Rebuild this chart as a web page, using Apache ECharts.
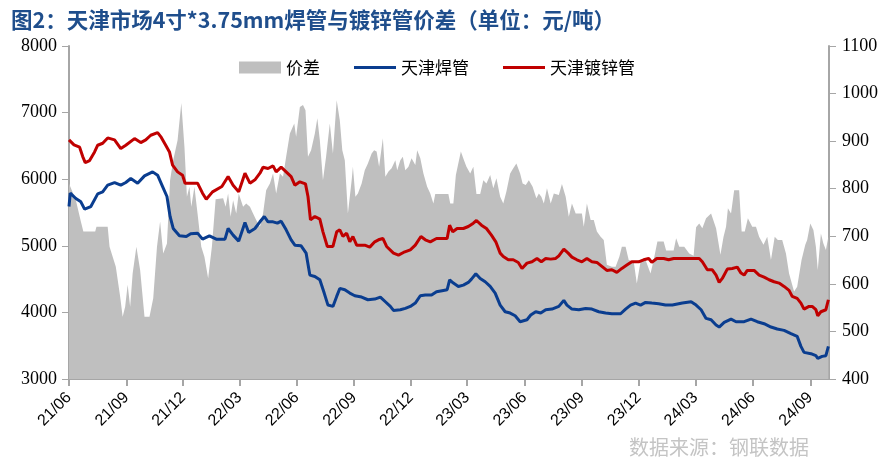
<!DOCTYPE html>
<html>
<head>
<meta charset="utf-8">
<script src="https://cdn.jsdelivr.net/npm/echarts@6/dist/echarts.min.js"></script>
<style>html,body{margin:0;padding:0;background:#fff}#c{width:889px;height:471px}</style>
</head>
<body>
<div id="c"></div>
<script>
// Day offsets counted from START_DATE
const START_DATE = '2021-06-01';
const END_DATE = '2024-10-01';
const tickDates = ['2021-06-01','2021-09-01','2021-12-01','2022-03-01','2022-06-01','2022-09-01','2022-12-01','2023-03-01','2023-06-01','2023-09-01','2023-12-01','2024-03-01','2024-06-01','2024-09-01'];
const seriesNames = ['价差','天津焊管','天津镀锌管'];

// 价差 (right axis) [day, 元/吨]
const spread = [[0,811],[11,776],[19,731],[23,710],[42,710],[44,720],[62,720],[65,678],[75,636],[82,573],[86,531],[90,552],[94,598],[98,552],[102,622],[108,678],[114,629],[121,531],[129,531],[135,570],[141,678],[146,731],[151,664],[157,685],[162,818],[167,860],[174,902],[180,980],[185,888],[189,783],[193,804],[196,762],[201,804],[206,748],[212,678],[217,657],[223,612],[229,678],[235,778],[247,780],[251,762],[255,790],[259,741],[263,776],[268,748],[272,790],[279,762],[284,769],[290,762],[295,748],[300,734],[306,720],[311,748],[316,797],[322,811],[327,832],[332,790],[338,832],[343,825],[348,867],[354,916],[361,937],[364,909],[370,972],[375,976],[379,965],[383,867],[388,881],[394,916],[398,948],[402,902],[407,818],[412,867],[418,937],[423,874],[429,986],[434,944],[438,881],[442,860],[447,748],[453,818],[455,846],[459,783],[463,790],[469,811],[474,839],[479,853],[485,874],[489,881],[493,878],[497,846],[503,906],[507,825],[512,836],[517,843],[523,860],[526,839],[531,860],[535,867],[539,839],[544,846],[549,864],[555,850],[558,881],[563,864],[568,832],[574,804],[579,790],[584,769],[587,789],[608,789],[611,769],[616,769],[620,829],[628,878],[633,860],[637,846],[643,832],[648,846],[653,789],[659,789],[664,818],[669,811],[675,829],[680,801],[685,822],[691,783],[696,769],[701,794],[707,832],[712,843],[717,853],[723,832],[727,811],[732,808],[737,818],[743,804],[749,780],[753,790],[757,783],[761,769],[766,801],[772,769],[777,790],[785,787],[790,810],[796,783],[801,741],[806,769],[812,748],[822,748],[825,720],[830,769],[836,734],[841,734],[846,710],[852,699],[857,692],[862,640],[870,636],[876,636],[882,657],[886,678],[892,678],[897,650],[905,647],[910,601],[916,647],[924,650],[932,622],[937,650],[943,689],[953,689],[957,670],[969,670],[973,696],[978,678],[986,678],[994,664],[1001,659],[1005,719],[1010,727],[1015,717],[1021,738],[1029,748],[1037,717],[1044,661],[1049,699],[1053,720],[1056,759],[1061,748],[1066,797],[1074,797],[1078,710],[1083,710],[1088,738],[1095,720],[1101,720],[1106,699],[1113,682],[1119,699],[1125,650],[1131,699],[1136,692],[1143,692],[1149,664],[1154,622],[1162,584],[1167,594],[1174,650],[1180,682],[1183,692],[1188,727],[1193,713],[1197,678],[1200,629],[1205,706],[1209,685],[1213,671],[1217,699]];

// 天津焊管 (left axis) [day, 元/吨]
const welded = [[0,5590],[2,5790],[11,5710],[19,5660],[25,5550],[35,5590],[46,5780],[54,5810],[62,5910],[73,5950],[83,5910],[91,5950],[99,6010],[110,5940],[121,6050],[134,6110],[142,6060],[150,5890],[157,5740],[162,5440],[167,5260],[177,5150],[188,5140],[195,5180],[206,5190],[214,5100],[225,5150],[236,5100],[250,5100],[255,5260],[263,5160],[272,5070],[282,5350],[288,5200],[298,5260],[306,5360],[313,5440],[319,5360],[327,5360],[334,5340],[340,5370],[348,5240],[356,5090],[362,5010],[372,5000],[380,4890],[386,4560],[394,4540],[402,4490],[409,4290],[415,4110],[423,4090],[429,4240],[434,4360],[442,4340],[450,4290],[458,4250],[469,4230],[479,4190],[490,4200],[499,4230],[507,4160],[515,4090],[520,4030],[531,4040],[539,4060],[547,4090],[555,4140],[563,4250],[571,4260],[581,4260],[589,4310],[600,4330],[606,4340],[610,4490],[616,4440],[624,4390],[632,4410],[640,4450],[645,4500],[652,4580],[659,4510],[667,4460],[675,4390],[683,4290],[691,4110],[699,4010],[707,3990],[715,3950],[723,3860],[734,3890],[740,3960],[748,4010],[756,3990],[764,4040],[774,4050],[785,4090],[793,4180],[798,4110],[806,4050],[817,4040],[828,4060],[838,4050],[849,4010],[860,3990],[870,3980],[884,3980],[892,4050],[900,4110],[908,4140],[916,4110],[924,4150],[934,4140],[945,4130],[956,4110],[967,4110],[983,4140],[997,4160],[1005,4110],[1013,4040],[1021,3910],[1029,3890],[1037,3810],[1042,3780],[1050,3850],[1061,3900],[1069,3860],[1082,3860],[1093,3900],[1103,3860],[1114,3830],[1125,3780],[1135,3750],[1146,3730],[1157,3680],[1167,3640],[1173,3490],[1178,3400],[1189,3380],[1197,3350],[1200,3310],[1207,3340],[1213,3350],[1217,3490]];

// 天津镀锌管 (left axis) [day, 元/吨]
const galvanized = [[0,6590],[8,6515],[17,6480],[22,6340],[26,6250],[33,6280],[41,6410],[46,6510],[54,6540],[62,6620],[73,6590],[83,6460],[91,6510],[105,6610],[115,6550],[123,6590],[131,6660],[142,6700],[147,6640],[155,6510],[161,6410],[166,6210],[174,6110],[182,6060],[186,5940],[206,5940],[214,5790],[220,5700],[230,5810],[245,5890],[247,5890],[255,6040],[263,5910],[272,5810],[282,6090],[290,5940],[298,5990],[306,6090],[311,6180],[319,6160],[327,6200],[332,6110],[340,6180],[348,6110],[356,6040],[362,5910],[370,5960],[379,5930],[383,5740],[387,5390],[394,5440],[402,5400],[407,5210],[414,4990],[423,4990],[429,5210],[434,5240],[439,5140],[445,5190],[450,5060],[455,5140],[461,5010],[474,5010],[482,4980],[490,5060],[496,5090],[503,5110],[509,4990],[520,4890],[528,4860],[536,4900],[547,4940],[555,5010],[564,5140],[571,5090],[579,5060],[589,5110],[606,5110],[610,5310],[615,5210],[622,5260],[632,5260],[640,5290],[648,5340],[653,5380],[661,5310],[669,5260],[677,5160],[684,5060],[691,4890],[696,4840],[704,4790],[712,4790],[720,4750],[726,4660],[734,4740],[742,4760],[750,4810],[757,4760],[764,4810],[772,4800],[780,4810],[785,4850],[793,4950],[800,4890],[806,4830],[814,4790],[822,4760],[830,4810],[838,4760],[846,4750],[854,4690],[862,4630],[870,4640],[878,4600],[886,4660],[894,4710],[902,4760],[913,4760],[921,4790],[929,4810],[934,4750],[942,4810],[953,4810],[961,4790],[969,4810],[980,4810],[997,4810],[1010,4810],[1015,4760],[1023,4640],[1031,4640],[1037,4560],[1042,4450],[1047,4510],[1055,4650],[1063,4660],[1071,4680],[1077,4590],[1082,4560],[1087,4630],[1098,4630],[1106,4560],[1114,4530],[1122,4490],[1130,4460],[1138,4440],[1146,4390],[1154,4330],[1159,4240],[1167,4210],[1173,4140],[1178,4050],[1186,4090],[1191,4090],[1197,4040],[1200,3950],[1205,4010],[1213,4040],[1217,4190]];

const DAY = 86400000;
const t0 = Date.parse(START_DATE + 'T00:00:00Z');
const dayOf = s => Math.round((Date.parse(s + 'T00:00:00Z') - t0) / DAY);
const tickDays = tickDates.map(dayOf);
const pad = n => (n < 10 ? '0' : '') + n;
const fmt = v => { const d = new Date(t0 + v * DAY); return pad(d.getUTCFullYear() % 100) + '/' + pad(d.getUTCMonth() + 1); };
const plain = v => String(v);
// thin line legend icon (invisible slivers keep the 42x12 box)
const lineIcon = 'path://M0,0L42,0L42,0.01L0,0.01Z M0,4.6L42,4.6L42,7.4L0,7.4Z M0,11.99L42,11.99L42,12L0,12Z';

const axisGray = '#A6A6A6';
const chart = echarts.init(document.getElementById('c'), null, {renderer: 'canvas'});
chart.setOption({
  animation: false,
  backgroundColor: '#fff',
  title: [{
    text: '图2：天津市场4寸*3.75mm焊管与镀锌管价差（单位：元/吨）',
    left: 6, top: 4,
    textStyle: {fontFamily: 'Noto Sans CJK SC', fontSize: 21.5, fontWeight: 'bold', color: '#1F4E8C'}
  }, {
    text: '数据来源：钢联数据',
    right: 75, top: 432,
    textStyle: {fontFamily: 'Noto Sans CJK SC', fontSize: 20, fontWeight: 'normal', color: '#C4C4C4'}
  }],
  legend: {
    left: 234, top: 54,
    itemWidth: 42, itemHeight: 12, itemGap: 34,
    textStyle: {fontFamily: 'Noto Sans CJK SC', fontSize: 17, color: '#000'},
    data: [{name: seriesNames[0], icon: 'rect'}, {name: seriesNames[1], icon: lineIcon}, {name: seriesNames[2], icon: lineIcon}]
  },
  grid: {left: 69, right: 60, top: 46, bottom: 92},
  xAxis: {
    type: 'value',
    min: 0, max: dayOf(END_DATE),
    axisLine: {show: true, onZero: false, lineStyle: {color: axisGray, width: 1}},
    axisTick: {show: true, length: 7, customValues: tickDays, lineStyle: {color: axisGray, width: 2}},
    axisLabel: {customValues: tickDays, formatter: fmt, rotate: 45, margin: 16,
      fontFamily: 'Liberation Sans', fontSize: 16, color: '#000'},
    splitLine: {show: false}
  },
  yAxis: [{
    type: 'value', min: 3000, max: 8000, interval: 1000, position: 'left',
    axisLine: {show: true, lineStyle: {color: axisGray, width: 2}},
    axisTick: {show: true, length: 7, lineStyle: {color: axisGray, width: 1}},
    axisLabel: {formatter: plain, fontFamily: 'Liberation Serif', fontSize: 18, color: '#000', margin: 12},
    splitLine: {show: false}
  }, {
    type: 'value', min: 400, max: 1100, interval: 100, position: 'right',
    axisLine: {show: true, lineStyle: {color: axisGray, width: 2}},
    axisTick: {show: true, length: 7, lineStyle: {color: axisGray, width: 1}},
    axisLabel: {formatter: plain, fontFamily: 'Liberation Serif', fontSize: 18, color: '#000', margin: 13},
    splitLine: {show: false}
  }],
  series: [{
    name: seriesNames[0], type: 'line', yAxisIndex: 1, data: spread,
    symbol: 'none', lineStyle: {width: 0, color: '#BFBFBF'}, itemStyle: {color: '#BFBFBF'},
    areaStyle: {color: '#BFBFBF', opacity: 1, origin: 'start'}, z: 1
  }, {
    name: seriesNames[1], type: 'line', yAxisIndex: 0, data: welded,
    symbol: 'none', lineStyle: {width: 3, color: '#0A3D8F'}, itemStyle: {color: '#0A3D8F'}, z: 3
  }, {
    name: seriesNames[2], type: 'line', yAxisIndex: 0, data: galvanized,
    symbol: 'none', lineStyle: {width: 3, color: '#C00000'}, itemStyle: {color: '#C00000'}, z: 4
  }]
});
</script>
</body>
</html>
